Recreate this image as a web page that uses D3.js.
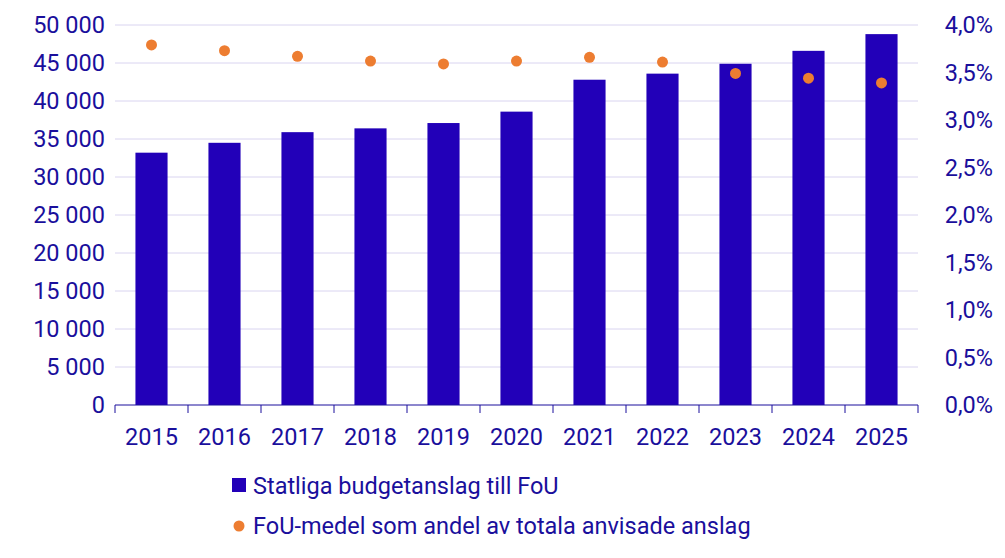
<!DOCTYPE html>
<html><head><meta charset="utf-8">
<script src="https://cdn.jsdelivr.net/npm/d3@7"></script>
<style>body{margin:0;background:#fff;font-family:Roboto,sans-serif}</style>
</head><body><svg id="c" width="1005" height="558"></svg>
<script>
const years = ['2015','2016','2017','2018','2019','2020','2021','2022','2023','2024','2025'];
const budget = [33200, 34500, 35900, 36400, 37100, 38600, 42800, 43600, 44900, 46600, 48800];
const share = [3.79, 3.73, 3.67, 3.62, 3.59, 3.62, 3.66, 3.61, 3.49, 3.44, 3.39];
const leftTicks = d3.range(0, 50001, 5000);
const rightTicks = d3.range(0, 4.01, 0.5);

const txt = '#1a0f9c', barCol = '#2200b8', dotCol = '#ed7d31', grid = '#d9d4f0';
const fs = 23.5;
const m = {l: 115, r: 918, t: 25, b: 405};
const svg = d3.select('#c');
const x = d3.scaleBand().domain(years).range([m.l, m.r]).paddingInner(0.56).paddingOuter(0.28);
const band = d3.scaleBand().domain(years).range([m.l, m.r]);
const y = d3.scaleLinear().domain([0, 50000]).range([m.b, m.t]);
const y2 = d3.scaleLinear().domain([0, 4]).range([m.b, m.t]);
const fmt = d => d3.format(',')(d).replace(/,/g, '\u00a0');

svg.append('g').selectAll('line').data(leftTicks.slice(1)).enter().append('line')
  .attr('x1', m.l).attr('x2', m.r).attr('y1', d => y(d)).attr('y2', d => y(d))
  .attr('stroke', grid).attr('stroke-width', 1);

svg.append('g').selectAll('rect').data(years).enter().append('rect')
  .attr('x', d => x(d)).attr('width', x.bandwidth())
  .attr('y', (d, i) => y(budget[i])).attr('height', (d, i) => m.b - y(budget[i]))
  .attr('fill', barCol);

svg.append('g').selectAll('circle').data(years).enter().append('circle')
  .attr('cx', d => band(d) + band.bandwidth() / 2).attr('cy', (d, i) => y2(share[i]))
  .attr('r', 5.5).attr('fill', dotCol);

// x axis
svg.append('line').attr('x1', m.l).attr('x2', m.r).attr('y1', m.b).attr('y2', m.b).attr('stroke', txt);
svg.append('g').selectAll('line').data(d3.range(years.length + 1)).enter().append('line')
  .attr('x1', i => m.l + i * band.step()).attr('x2', i => m.l + i * band.step())
  .attr('y1', m.b).attr('y2', m.b + 8).attr('stroke', txt);
svg.append('g').selectAll('text').data(years).enter().append('text')
  .attr('x', d => band(d) + band.bandwidth() / 2).attr('y', 445)
  .attr('text-anchor', 'middle').attr('font-size', fs).attr('fill', txt).text(d => d);

svg.append('g').selectAll('text').data(leftTicks).enter().append('text')
  .attr('x', 105).attr('y', d => y(d) + 8).attr('text-anchor', 'end')
  .attr('font-size', fs).attr('fill', txt).text(fmt);
svg.append('g').selectAll('text').data(rightTicks).enter().append('text')
  .attr('x', 993).attr('y', d => y2(d) + 8).attr('text-anchor', 'end')
  .attr('font-size', fs).attr('fill', txt).text(d => d.toFixed(1).replace('.', ',') + '%');

// legend
svg.append('rect').attr('x', 232).attr('y', 478).attr('width', 14).attr('height', 14).attr('fill', barCol);
svg.append('text').attr('x', 253).attr('y', 494).attr('font-size', fs).attr('fill', txt).text('Statliga budgetanslag till FoU');
svg.append('circle').attr('cx', 239).attr('cy', 526).attr('r', 5.5).attr('fill', dotCol);
svg.append('text').attr('x', 253).attr('y', 534).attr('font-size', fs).attr('fill', txt).text('FoU-medel som andel av totala anvisade anslag');
</script></body></html>
